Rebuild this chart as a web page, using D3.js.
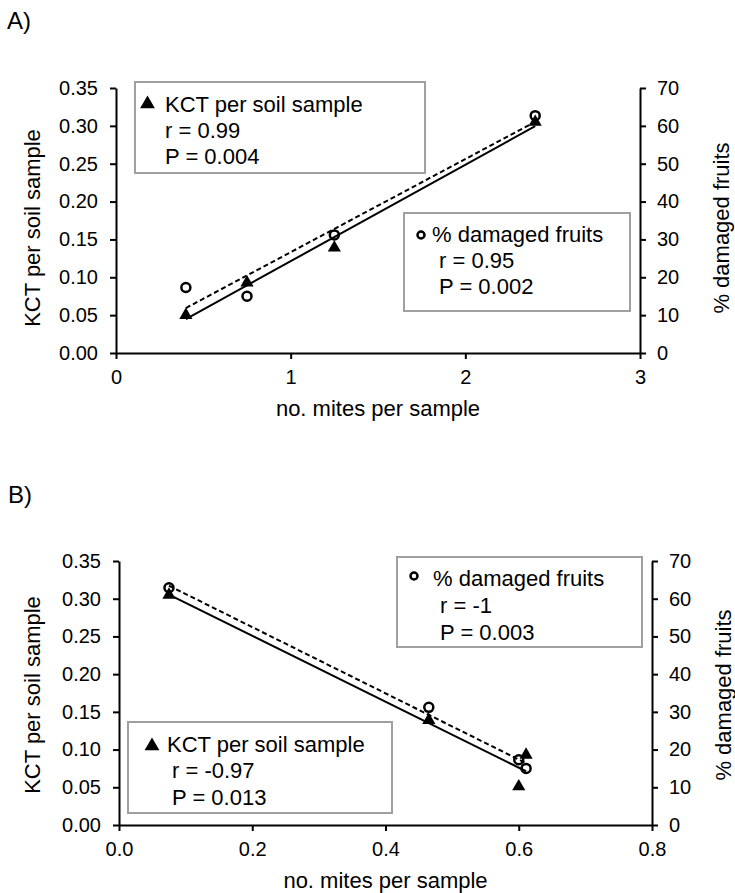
<!DOCTYPE html>
<html><head><meta charset="utf-8">
<script src="https://cdn.jsdelivr.net/npm/d3@7"></script>
<style>
body{margin:0;background:#fff}
svg text{font-family:"Liberation Sans",Arial,sans-serif;fill:#000}
</style>
</head><body>
<svg id="chart" width="735" height="893"></svg>
<script>
// ---- data ----
const miteA = [0.4, 0.75, 1.25, 2.4];
const kctA = [0.05, 0.093, 0.139, 0.305];
const damagedA = [17.3, 15.0, 31.2, 62.7];

const miteB = [0.075, 0.465, 0.6, 0.611];
const kctB = [0.305, 0.139, 0.051, 0.093];
const damagedB = [62.9, 31.2, 17.3, 15.0];

const kctTicks = [0, 0.05, 0.10, 0.15, 0.20, 0.25, 0.30, 0.35];
const damagedTicks = [0, 10, 20, 30, 40, 50, 60, 70];
const miteTicksA = [0, 1, 2, 3];
const miteTicksB = [0, 0.2, 0.4, 0.6, 0.8];

const legendKctA = ["KCT per soil sample", "r = 0.99", "P = 0.004"];
const legendDamagedA = ["% damaged fruits", "r = 0.95", "P = 0.002"];
const legendKctB = ["KCT per soil sample", "r = -0.97", "P = 0.013"];
const legendDamagedB = ["% damaged fruits", "r = -1", "P = 0.003"];

const xTitle = "no. mites per sample";
const yLeftTitle = "KCT per soil sample";
const yRightTitle = "% damaged fruits";

// ---- drawing ----
const svg = d3.select("#chart");

function linreg(xs, ys) {
  const mx = d3.mean(xs), my = d3.mean(ys);
  let sxy = 0, sxx = 0;
  xs.forEach((x, i) => { sxy += (x - mx) * (ys[i] - my); sxx += (x - mx) * (x - mx); });
  const b = sxy / sxx;
  return { b, a: my - b * mx };
}

function panel(cfg) {
  const g = svg.append("g");
  const x = d3.scaleLinear().domain(cfg.xDomain).range([cfg.left, cfg.right]);
  const yL = d3.scaleLinear().domain([0, 0.35]).range([cfg.bottom, cfg.top]);
  const yR = d3.scaleLinear().domain([0, 70]).range([cfg.bottom, cfg.top]);

  g.append("text").attr("x", cfg.labelX).attr("y", cfg.labelY)
    .attr("font-size", 24).text(cfg.label);

  // axes
  const axL = g.append("g").attr("transform", `translate(${cfg.left},0)`)
    .call(d3.axisLeft(yL).tickValues(kctTicks).tickFormat(d3.format(".2f"))
      .tickSize(6).tickSizeOuter(0).tickPadding(12));
  const axR = g.append("g").attr("transform", `translate(${cfg.right},0)`)
    .call(d3.axisRight(yR).tickValues(damagedTicks).tickFormat(d3.format("d"))
      .tickSize(6).tickSizeOuter(0).tickPadding(11));
  const axB = g.append("g").attr("transform", `translate(0,${cfg.bottom})`)
    .call(d3.axisBottom(x).tickValues(cfg.xTicks).tickFormat(cfg.xFormat)
      .tickSize(6).tickSizeOuter(0).tickPadding(11));
  [axL, axR, axB].forEach(a => {
    a.attr("font-size", 20).attr("font-family", null);
    a.selectAll("path,line").attr("stroke", "#000").attr("stroke-width", 2);
    a.selectAll("text").attr("fill", "#000");
  });

  // titles
  g.append("text").attr("x", (cfg.left + cfg.right) / 2).attr("y", cfg.bottom + 63)
    .attr("text-anchor", "middle").attr("font-size", 22).text(xTitle);
  g.append("text").attr("transform", `translate(${cfg.yTitleLX},${cfg.yTitleCY}) rotate(-90)`)
    .attr("text-anchor", "middle").attr("font-size", 22).text(yLeftTitle);
  g.append("text").attr("transform", `translate(${cfg.yTitleRX},${cfg.yTitleCY}) rotate(-90)`)
    .attr("text-anchor", "middle").attr("font-size", 22).text(yRightTitle);

  // trend lines
  const xs = cfg.mite;
  const x0 = d3.min(xs), x1 = d3.max(xs);
  const rk = linreg(xs, cfg.kct);
  const rd = linreg(xs, cfg.damaged);
  const line = d3.line().x(d => d[0]).y(d => d[1]);
  g.append("path")
    .attr("d", line([[x(x0), yL(rk.a + rk.b * x0)], [x(x1), yL(rk.a + rk.b * x1)]]))
    .attr("stroke", "#000").attr("stroke-width", 2).attr("fill", "none");
  g.append("path")
    .attr("d", line([[x(x0), yR(rd.a + rd.b * x0)], [x(x1), yR(rd.a + rd.b * x1)]]))
    .attr("stroke", "#000").attr("stroke-width", 2).attr("fill", "none")
    .attr("stroke-dasharray", "5,3");

  // markers
  const tri = d3.symbol().type(d3.symbolTriangle).size(75);
  g.selectAll(".tri").data(xs.map((v, i) => [v, cfg.kct[i]])).join("path")
    .attr("transform", d => `translate(${x(d[0])},${yL(d[1])})`)
    .attr("d", tri()).attr("fill", "#000");
  g.selectAll(".circ").data(xs.map((v, i) => [v, cfg.damaged[i]])).join("circle")
    .attr("cx", d => x(d[0])).attr("cy", d => yR(d[1])).attr("r", 4.5)
    .attr("fill", "none").attr("stroke", "#000").attr("stroke-width", 2.5);

  // legends
  cfg.legends.forEach(L => {
    const lg = g.append("g");
    lg.append("rect").attr("x", L.x).attr("y", L.y).attr("width", L.w).attr("height", L.h)
      .attr("fill", "#fff").attr("stroke", "#a0a0a0").attr("stroke-width", 2);
    if (L.symbol === "tri") {
      lg.append("path").attr("transform", `translate(${L.sx},${L.sy})`)
        .attr("d", d3.symbol().type(d3.symbolTriangle).size(95)()).attr("fill", "#000");
    } else {
      lg.append("circle").attr("cx", L.sx).attr("cy", L.sy).attr("r", 3.5)
        .attr("fill", "none").attr("stroke", "#000").attr("stroke-width", 2.5);
    }
    L.lines.forEach((t, i) => {
      lg.append("text").attr("x", i === 0 ? L.tx : L.tx2).attr("y", L.by[i])
        .attr("font-size", 22).text(t);
    });
  });
}

panel({
  label: "A)", labelX: 7, labelY: 29,
  left: 116, right: 640, top: 88, bottom: 353,
  xDomain: [0, 3], xTicks: miteTicksA, xFormat: d3.format("d"),
  yTitleLX: 40, yTitleRX: 729, yTitleCY: 228,
  mite: miteA, kct: kctA, damaged: damagedA,
  legends: [
    { x: 135, y: 82, w: 290, h: 91, symbol: "tri", sx: 147.5, sy: 104,
      tx: 165, tx2: 165, by: [112, 138, 164], lines: legendKctA },
    { x: 404, y: 213, w: 226, h: 98, symbol: "circ", sx: 421, sy: 235,
      tx: 432, tx2: 439, by: [242, 268, 294], lines: legendDamagedA }
  ]
});

panel({
  label: "B)", labelX: 8, labelY: 503,
  left: 119, right: 652, top: 561, bottom: 825,
  xDomain: [0, 0.8], xTicks: miteTicksB, xFormat: d3.format(".1f"),
  yTitleLX: 40, yTitleRX: 731, yTitleCY: 695,
  mite: miteB, kct: kctB, damaged: damagedB,
  legends: [
    { x: 397, y: 557, w: 245, h: 90, symbol: "circ", sx: 414, sy: 576,
      tx: 433, tx2: 440, by: [586, 613, 640], lines: legendDamagedB },
    { x: 128, y: 722, w: 264, h: 91, symbol: "tri", sx: 152, sy: 746,
      tx: 167, tx2: 172, by: [752, 778, 805], lines: legendKctB }
  ]
});
</script>
</body></html>
